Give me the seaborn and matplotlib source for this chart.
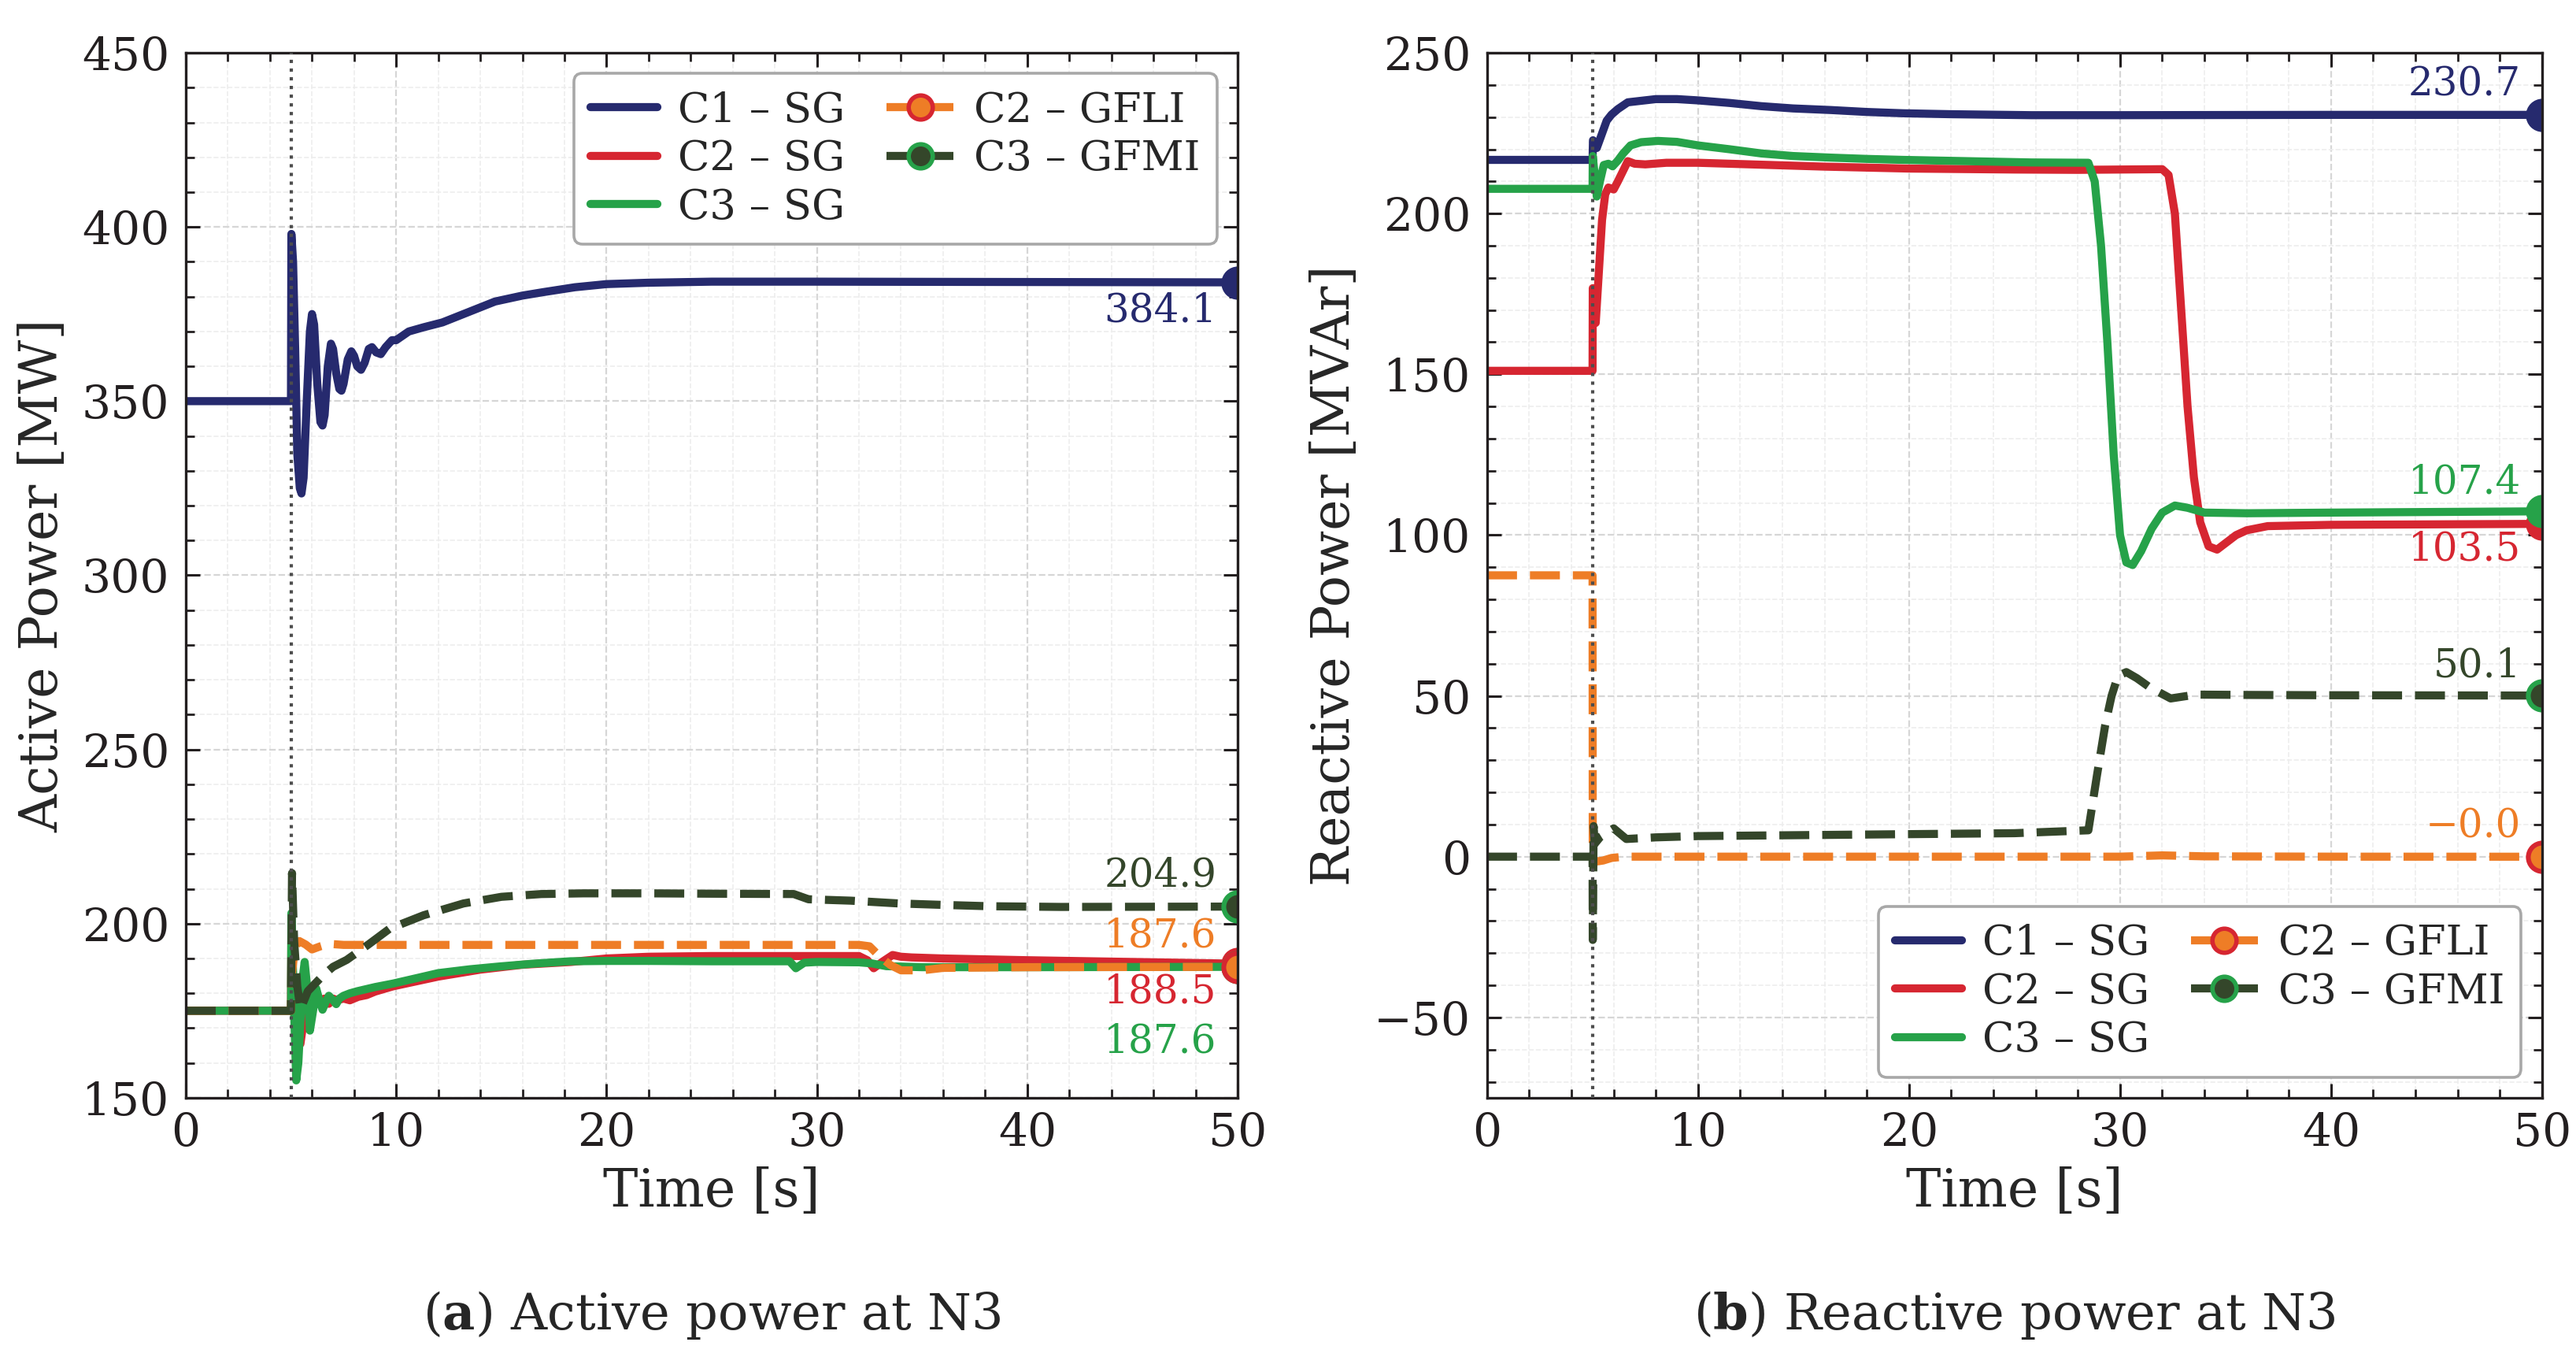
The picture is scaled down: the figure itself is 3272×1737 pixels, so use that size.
import numpy as np
import matplotlib
matplotlib.use("Agg")
import matplotlib.pyplot as plt
from matplotlib.lines import Line2D
from matplotlib.ticker import MultipleLocator
import seaborn as sns

# ---------------- data ----------------
T_EVENT = 5.0

# (a) active power at N3 [MW]
t_p_c1 = [0, 5.0, 5.02, 5.1, 5.2, 5.3, 5.42, 5.5, 5.6, 5.75, 5.9, 6.0, 6.1, 6.25, 6.4, 6.5,
          6.6, 6.75, 6.9, 7.0, 7.15, 7.3, 7.4, 7.5, 7.7, 7.87, 8.0, 8.15, 8.33, 8.5, 8.7,
          8.85, 9.05, 9.27, 9.5, 9.8, 10.0, 10.6, 11.3, 12.2, 13.2, 14.7, 16.0, 17.0, 18.5,
          20.0, 22.0, 25.0, 30.0, 40.0, 50.0]
p_c1 = [350, 350, 398, 390, 365, 335, 325, 323.5, 328, 350, 370, 375, 372, 355, 344, 343,
        346, 360, 366.5, 365, 358, 353.5, 353, 355, 362, 364.3, 363, 360, 359, 361, 365,
        365.5, 364, 363.5, 365.5, 367.5, 367.5, 370, 371.2, 372.6, 375, 378.6, 380.3, 381.3,
        382.7, 383.6, 384.0, 384.3, 384.3, 384.2, 384.1]

t_p_c2 = [0, 5.0, 5.02, 5.15, 5.3, 5.45, 5.6, 5.75, 5.9, 6.05, 6.2, 6.4, 6.6, 6.8, 7.0, 7.2,
          7.5, 7.8, 8.2, 8.6, 9.0, 9.85, 11.0, 12.0, 14.0, 16.0, 18.3, 20.0, 22.0, 25.0, 28.0,
          32.0, 32.4, 32.7, 33.1, 33.6, 34.0, 34.5, 36.0, 40.0, 45.0, 50.0]
p_c2 = [175, 175, 195, 178, 168, 165.5, 172, 182, 178, 176, 180, 178, 178.5, 177, 178.5, 178,
        178.5, 178, 179, 179.5, 180.5, 182.0, 183.5, 184.8, 186.8, 188.2, 189.0, 190.0, 190.5,
        190.7, 190.7, 190.7, 189.5, 187.2, 189, 191, 190.5, 190.3, 190, 189.5, 189, 188.5]

t_p_c3 = [0, 5.0, 5.02, 5.15, 5.25, 5.35, 5.45, 5.55, 5.65, 5.8, 5.9, 6.05, 6.2, 6.35, 6.5,
          6.65, 6.8, 7.0, 7.15, 7.3, 7.5, 7.8, 8.15, 9.0, 9.85, 11.0, 12.0, 13.5, 14.9, 16.5,
          18.3, 20.0, 22.0, 25.0, 28.7, 29.0, 29.4, 30.0, 32.0, 32.6, 33.3, 35.0, 40.0, 50.0]
p_c3 = [175, 175, 203, 175, 155, 160, 172, 184, 189, 180, 169.3, 175, 181.4, 178, 175.3,
        177.5, 179.3, 178, 176.9, 178.5, 179.3, 180, 180.6, 181.8, 182.8, 184.4, 185.8, 186.9,
        187.7, 188.5, 189.2, 189.3, 189.3, 189.2, 189.2, 187.2, 188.8, 189.0, 188.9, 188.6,
        187.8, 187.5, 187.5, 187.6]

t_p_gfli = [0, 5.0, 5.05, 5.2, 5.4, 5.7, 6.0, 6.4, 6.8, 7.5, 15.0, 25.0, 32.0, 32.5, 33.0,
            33.5, 34.0, 35.0, 36.0, 40.0, 50.0]
p_gfli = [175, 175, 186, 193.5, 195, 194, 192.6, 193.5, 194.2, 193.9, 193.9, 193.9, 193.9,
          193.5, 190.5, 188.1, 186.6, 186.6, 187.3, 187.5, 187.6]

t_p_gfmi = [0, 5.0, 5.05, 5.15, 5.3, 5.45, 5.8, 6.1, 6.5, 7.0, 7.65, 8.7, 9.7, 11.3, 13.2,
            15.0, 16.9, 18.9, 22.0, 25.0, 28.9, 29.6, 31.6, 33.9, 35.9, 38.2, 41.6, 50.0]
p_gfmi = [175, 175, 214.5, 195, 182, 175.4, 180.6, 182.5, 185, 187.6, 189.6, 194.1, 198.6,
          202.4, 205.8, 207.7, 208.5, 208.7, 208.7, 208.6, 208.5, 207.0, 206.6, 205.8, 205.4,
          205.0, 204.8, 204.9]

# (b) reactive power at N3 [MVAr]
t_q_c1 = [0, 5.0, 5.02, 5.2, 5.4, 5.67, 5.9, 6.2, 6.67, 7.2, 8.0, 9.0, 10.0, 11.5, 13.0,
          14.5, 16.3, 18.0, 19.7, 22.0, 25.8, 30.0, 40.0, 50.0]
q_c1 = [216.7, 216.7, 222.8, 220.4, 224, 228.9, 230.8, 232.5, 234.6, 235.0, 235.6, 235.6,
        235.2, 234.4, 233.4, 232.7, 232.2, 231.6, 231.2, 230.9, 230.6, 230.6, 230.7, 230.7]

t_q_c2 = [0, 5.0, 5.01, 5.15, 5.3, 5.45, 5.6, 5.75, 6.0, 6.2, 6.5, 6.67, 7.0, 7.5, 8.5, 10.0,
          13.0, 16.0, 20.0, 25.0, 28.0, 32.0, 32.3, 32.6, 32.9, 33.2, 33.5, 33.8, 34.2, 34.6,
          35.0, 35.5, 36.0, 37.0, 40.0, 50.0]
q_c2 = [151.1, 151.1, 176.8, 166, 182, 198, 206, 208.1, 207.5, 210, 214, 216.3, 215.5, 215.3,
        215.8, 215.8, 215.2, 214.6, 214, 213.7, 213.6, 213.8, 212, 200, 170, 140, 118, 104,
        96.5, 95.5, 97.5, 100, 101.5, 102.8, 103.2, 103.5]

t_q_c3 = [0, 5.0, 5.01, 5.1, 5.2, 5.35, 5.53, 5.75, 5.95, 6.2, 6.45, 6.8, 7.3, 8.1, 9.0, 10.0,
          11.5, 13.0, 14.5, 16.3, 18.0, 19.7, 22.0, 25.8, 28.5, 28.8, 29.1, 29.4, 29.7, 30.0,
          30.3, 30.6, 31.0, 31.5, 32.0, 32.6, 33.2, 34.0, 36.0, 40.0, 50.0]
q_c3 = [207.7, 207.7, 217.9, 212, 205.3, 210, 215.1, 215.5, 214.7, 216.5, 218.7, 221.2,
        222.2, 222.6, 222.3, 221.2, 220, 218.7, 217.9, 217.4, 217.0, 216.7, 216.4, 215.9,
        215.8, 210, 190, 160, 125, 100, 91.5, 90.7, 95, 102, 107, 109.2, 108.5, 107, 106.8,
        107.0, 107.4]

t_q_gfli = [0, 5.0, 5.01, 5.2, 5.5, 5.9, 6.5, 10.0, 20.0, 30.0, 32.0, 34.0, 40.0, 50.0]
q_gfli = [87.5, 87.5, -0.5, -1.5, -1.2, -0.4, 0, 0, 0, 0, 0.4, 0.1, 0, -0.02]

t_q_gfmi = [0, 5.0, 5.01, 5.05, 5.1, 5.39, 6.0, 6.6, 8.0, 10.0, 15.0, 20.0, 25.0, 28.5, 28.9,
            29.3, 29.6, 29.9, 30.3, 30.8, 31.4, 32.4, 33.6, 36.0, 40.0, 50.0]
q_gfmi = [0, 0, -25.9, 9.5, 4, 6.3, 8.8, 5.5, 6.0, 6.4, 6.7, 7.0, 7.3, 8.2, 25, 41, 50, 56.2,
          57.4, 55.5, 52.7, 49.2, 50.4, 50.3, 50.2, 50.1]

labels = ["C1 – SG", "C2 – SG", "C3 – SG", "C2 – GFLI", "C3 – GFMI"]

# ---------------- style ----------------
NAVY, RED, GREEN, ORANGE, OLIVE = "#262a6e", "#d62631", "#26a249", "#ee7d26", "#34462a"
LW = 3.7
MS = 13

sns.set_theme(style="ticks")
plt.rcParams["font.family"] = ["DejaVu Serif"]
plt.rcParams["mathtext.fontset"] = "dejavuserif"
plt.rcParams["axes.edgecolor"] = "#231f20"
plt.rcParams["axes.linewidth"] = 1.2
plt.rcParams["lines.linewidth"] = LW

# line colour, linestyle, marker face, marker edge
styles = [
    (NAVY, "-", NAVY, NAVY),
    (RED, "-", RED, RED),
    (GREEN, "-", GREEN, GREEN),
    (ORANGE, "--", ORANGE, RED),
    (OLIVE, "--", OLIVE, GREEN),
]


def draw_series(ax, t, v, style):
    color, ls, mfc, mec = style
    sns.lineplot(x=t, y=v, ax=ax, color=color, linewidth=LW, linestyle=ls, sort=False,
                 estimator=None, marker="o", markevery=[len(t) - 1], markersize=MS,
                 markerfacecolor=mfc, markeredgecolor=mec, markeredgewidth=2.2)
    ax.lines[-1].set_linewidth(LW)


def fmt(v):
    return f"{v:.1f}".replace("-", "\u2212")


def style_axes(ax, ylim, ymajor, yminor, ylabel):
    ax.set_xlim(0, 50)
    ax.set_ylim(*ylim)
    ax.xaxis.set_major_locator(MultipleLocator(10))
    ax.xaxis.set_minor_locator(MultipleLocator(2))
    ax.yaxis.set_major_locator(MultipleLocator(ymajor))
    ax.yaxis.set_minor_locator(MultipleLocator(yminor))
    ax.tick_params(which="both", direction="in", top=True, right=True, labelsize=21,
                   colors="#231f20")
    ax.tick_params(which="major", length=6.5, width=1.1)
    ax.tick_params(which="minor", length=4, width=1.0)
    ax.tick_params(axis="x", which="major", pad=6)
    ax.tick_params(axis="y", which="major", pad=7.5)
    ax.grid(which="major", color="#d6d6d6", ls="--", lw=0.8)
    ax.grid(which="minor", color="#ededed", ls="--", lw=0.6)
    ax.set_axisbelow(True)
    ax.axvline(T_EVENT, color="#4d4d4d", ls=":", lw=1.5, zorder=6)
    ax.set_xlabel("Time [s]", fontsize=24, labelpad=5)
    ax.set_ylabel(ylabel, fontsize=24, labelpad=6)


def legend_handles():
    hs = []
    for (color, ls, mfc, mec) in styles:
        if ls == "-":
            hs.append(Line2D([], [], color=color, lw=LW, ls=ls))
        else:
            hs.append(Line2D([], [], color=color, lw=LW, ls=ls, marker="o", markersize=11,
                             markerfacecolor=mfc, markeredgecolor=mec, markeredgewidth=2))
    return hs


W, H = 3273, 1737
fig = plt.figure(figsize=(W / 200, H / 200), dpi=200)
ax1 = fig.add_axes([0.0721, 0.1975, 0.4082, 0.7639])
ax2 = fig.add_axes([0.5771, 0.1975, 0.4094, 0.7639])

p_series = [(t_p_c1, p_c1), (t_p_c2, p_c2), (t_p_c3, p_c3), (t_p_gfli, p_gfli), (t_p_gfmi, p_gfmi)]
q_series = [(t_q_c1, q_c1), (t_q_c2, q_c2), (t_q_c3, q_c3), (t_q_gfli, q_gfli), (t_q_gfmi, q_gfmi)]

for (t, v), st in zip(p_series, styles):
    draw_series(ax1, t, v, st)
for (t, v), st in zip(q_series, styles):
    draw_series(ax2, t, v, st)

style_axes(ax1, (150, 450), 50, 10, "Active Power [MW]")
style_axes(ax2, (-75, 250), 50, 10, "Reactive Power [MVAr]")

# final-value annotations (y placement of each label)
p_label_y = [376, 180.3, 166.2, 196.5, 213.8]
q_label_y = [240, 95.6, 116.4, 9.4, 59.3]
for (t, v), st, ly in zip(p_series, styles, p_label_y):
    ax1.text(49.0, ly, fmt(v[-1]), color=st[0], fontsize=18, ha="right", va="center")
for (t, v), st, ly in zip(q_series, styles, q_label_y):
    ax2.text(49.0, ly, fmt(v[-1]), color=st[0], fontsize=18, ha="right", va="center")

for ax, loc in [(ax1, "upper right"), (ax2, "lower right")]:
    leg = ax.legend(legend_handles(), labels, loc=loc, ncol=2,
                    fontsize=19, frameon=True, fancybox=True, framealpha=1,
                    edgecolor="#a8a8a8", handlelength=1.6, handletextpad=0.5,
                    columnspacing=1.0, labelspacing=0.2, borderpad=0.4)
    leg.get_frame().set_linewidth(1.3)
    leg.set_zorder(10)

fig.text(0.2762, 0.0386, r"($\mathbf{a}$) Active power at N3", fontsize=23,
         ha="center", va="center")
fig.text(0.7818, 0.0386, r"($\mathbf{b}$) Reactive power at N3", fontsize=23,
         ha="center", va="center")

fig.savefig("out.png", dpi=200)
